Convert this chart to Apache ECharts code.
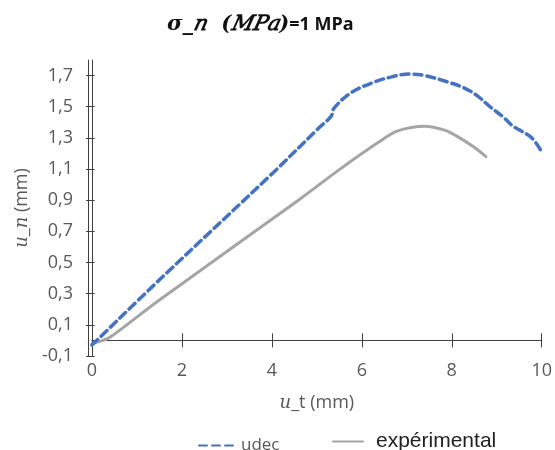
<!DOCTYPE html>
<html>
<head>
<meta charset="utf-8">
<script src="https://cdn.jsdelivr.net/npm/echarts@6/dist/echarts.min.js"></script>
<style>html,body{margin:0;padding:0;background:#fff}#c{width:555px;height:450px}</style>
</head>
<body>
<div id="c"></div>
<script>
// ---- data ----
const udecUt = [0, 1.54, 4.04, 5.03, 5.32, 5.38, 5.76, 6.29, 6.64, 7.05, 7.40, 7.90, 8.28, 8.57, 8.85, 9.16, 9.34, 9.51, 9.78, 10.0];
const udecUn = [-0.03, 0.40, 1.08, 1.36, 1.44, 1.49, 1.59, 1.66, 1.69, 1.71, 1.70, 1.66, 1.62, 1.57, 1.50, 1.43, 1.38, 1.35, 1.30, 1.21];
const expUt = [0, 0.24, 0.40, 1.50, 4.59, 5.47, 6.36, 6.80, 7.40, 7.84, 8.12, 8.50, 8.76];
const expUn = [-0.02, 0.00, 0.02, 0.26, 0.90, 1.09, 1.27, 1.345, 1.375, 1.35, 1.31, 1.24, 1.18];
const xTicks = [0, 2, 4, 6, 8, 10];
const yTicks = [-0.1, 0.1, 0.3, 0.5, 0.7, 0.9, 1.1, 1.3, 1.5, 1.7];
const seriesNames = ['udec', 'expérimental'];

const zip = (a, b) => a.map((v, i) => [v, b[i]]);
const axisColor = '#404040';
const labelColor = '#595959';
const fmt = v => (Math.round(v * 10) / 10).toFixed(1).replace('.', ',');
const FS = 18;
const zeroOffsetBottom = -15.6;   // grid bottom -> y = 0
const zeroOffsetTop = -280.4;     // grid top -> y = 0
const plotWidth = 453;

function xAx(extra) {
  return Object.assign({type: 'value', min: xTicks[0], max: xTicks[xTicks.length - 1], interval: 2,
    position: 'bottom', splitLine: {show: false}}, extra);
}
function yAx(extra) {
  return Object.assign({type: 'value', min: -0.1, max: 1.8, interval: 0.2,
    position: 'left', splitLine: {show: false}}, extra);
}
const blank = () => '';

const chart = echarts.init(document.getElementById('c'), null, {renderer: 'canvas'});
chart.setOption({
  animation: false,
  backgroundColor: '#fff',
  title: {
    text: '{i|σ_𝑛  (𝑀𝑃𝑎)}{b|=1 MPa}',
    left: 162,
    top: 9,
    textStyle: {
      rich: {
        i: {fontFamily: 'DejaVu Serif', fontStyle: 'italic', fontWeight: 'bold', fontSize: 21, color: '#111'},
        b: {fontFamily: 'Open Sans', fontWeight: 'bold', fontSize: 18, color: '#111'}
      }
    }
  },
  grid: {left: 92, right: 10, top: 60, bottom: 94, containLabel: false},
  legend: [
    {data: [seriesNames[0]], left: 193, top: 432, itemWidth: 37, itemHeight: 12, itemStyle: {opacity: 0},
     textStyle: {fontFamily: 'Open Sans', fontSize: 17, color: labelColor}},
    {data: [seriesNames[1]], left: 327, top: 426, itemWidth: 30, itemHeight: 12, itemStyle: {opacity: 0},
     textStyle: {fontFamily: 'Liberation Sans', fontSize: 21, color: '#222', padding: [0, 0, 0, 8]}}
  ],
  xAxis: [
    xAx({
      axisLine: {show: false, onZero: false},
      axisTick: {show: false},
      axisLabel: {fontFamily: 'Open Sans', fontSize: FS, color: labelColor, margin: 6},
      name: '{i|𝑢}_t (mm)',
      nameLocation: 'middle',
      nameGap: 38,
      nameTextStyle: {fontFamily: 'Open Sans', fontSize: FS, color: labelColor,
        rich: {i: {fontFamily: 'DejaVu Serif', fontStyle: 'italic', fontSize: FS, color: labelColor}}}
    }),
    xAx({
      offset: zeroOffsetBottom,
      axisLine: {show: true, onZero: false, lineStyle: {color: axisColor, width: 1}},
      axisTick: {show: true, inside: false, length: 7, lineStyle: {color: axisColor}},
      axisLabel: {show: true, formatter: blank}
    }),
    xAx({
      position: 'top',
      offset: zeroOffsetTop,
      axisLine: {show: true, onZero: false, lineStyle: {color: axisColor, width: 1}},
      axisTick: {show: true, inside: false, length: 7, lineStyle: {color: axisColor}},
      axisLabel: {show: true, formatter: blank}
    })
  ],
  yAxis: [
    yAx({
      axisLine: {show: true, onZero: false, lineStyle: {color: axisColor, width: 1}},
      axisTick: {show: true, inside: false, length: 6, customValues: yTicks, lineStyle: {color: axisColor}},
      axisLabel: {fontFamily: 'Open Sans', fontSize: FS, color: labelColor, margin: 19, customValues: yTicks,
        formatter: v => (v > 1.75 ? '' : fmt(v))},
      name: '{i|𝑢}_{i|𝑛} (mm)',
      nameLocation: 'middle',
      nameGap: 60,
      nameRotate: 90,
      nameTextStyle: {fontFamily: 'Open Sans', fontSize: FS, color: labelColor,
        rich: {i: {fontFamily: 'DejaVu Serif', fontStyle: 'italic', fontSize: FS, color: labelColor}}}
    }),
    yAx({
      position: 'right',
      offset: -plotWidth,
      axisLine: {show: true, onZero: false, lineStyle: {color: axisColor, width: 1}},
      axisTick: {show: true, inside: false, length: 6, customValues: yTicks, lineStyle: {color: axisColor}},
      axisLabel: {show: true, formatter: blank, customValues: yTicks}
    })
  ],
  series: [
    {
      name: seriesNames[0], type: 'line', xAxisIndex: 0, yAxisIndex: 0,
      data: zip(udecUt, udecUn), symbol: 'none', smooth: 0.35, z: 3,
      lineStyle: {color: '#4472C4', width: 3.5, type: [8, 5], cap: 'round'},
      itemStyle: {color: '#4472C4'}
    },
    {
      name: seriesNames[1], type: 'line', xAxisIndex: 0, yAxisIndex: 0,
      data: zip(expUt, expUn), symbol: 'none', smooth: 0.35, z: 2,
      lineStyle: {color: '#A5A5A5', width: 3, cap: 'round'},
      itemStyle: {color: '#A5A5A5'}
    },
    {type: 'line', xAxisIndex: 1, yAxisIndex: 0, data: [[0, 0]], symbol: 'none', silent: true},
    {type: 'line', xAxisIndex: 2, yAxisIndex: 0, data: [[0, 0]], symbol: 'none', silent: true},
    {type: 'line', xAxisIndex: 0, yAxisIndex: 1, data: [[0, 0]], symbol: 'none', silent: true}
  ]
});
</script>
</body>
</html>
